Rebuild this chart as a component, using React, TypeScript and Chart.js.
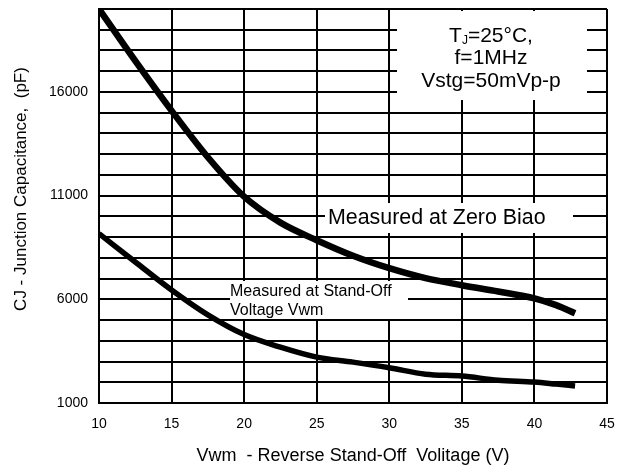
import React, { useEffect, useRef } from "react";
import { Chart, registerables } from "chart.js";

Chart.register(...registerables);

// Reverse stand-off voltage (V)
const voltage = [10, 12.5, 15, 17.5, 20, 22.5, 25, 27.5, 30, 32.5, 35, 37.5, 40, 41.5, 42.8];
// Junction capacitance (pF) measured at zero bias
const zeroBias = [20000, 17500, 15100, 12850, 10950, 9700, 8850, 8100, 7500, 7020, 6680, 6380, 6050, 5720, 5330];
// Junction capacitance (pF) measured at stand-off voltage Vwm
const standOff = [9170, 7800, 6450, 5250, 4300, 3690, 3210, 2970, 2700, 2390, 2300, 2100, 2010, 1910, 1820];

const yLabelled = [1000, 6000, 11000, 16000];
const xMin = 10;
const xMax = 45;
const xStep = 5;
const yMin = 1000;
const yMax = 20000;
const yStep = 1000;

const yTitle = "CJ - Junction Capacitance,  (pF)";
const xTitle = "Vwm  - Reverse Stand-Off  Volitage (V)";
const condLines = ["=25°C,", "f=1MHz", "Vstg=50mVp-p"];
const zeroLabel = "Measured at Zero Biao";
const standOffLabel = ["Measured at Stand-Off", "Voltage Vwm"];

const FONT = "Arial, 'Liberation Sans', sans-serif";

const annotations = {
  id: "annotations",
  beforeDatasetsDraw(chart: any) {
    const { ctx, chartArea } = chart;
    const L = chartArea.left;
    const T = chartArea.top;
    ctx.save();
    ctx.fillStyle = "#fff";
    // conditions box
    ctx.fillRect(L + 298, T + 2, 190, 89);
    // zero bias label box
    ctx.fillRect(L + 226, T + 194, 248, 30);
    // stand-off label box
    ctx.fillRect(L + 131, T + 272, 178, 38);

    ctx.fillStyle = "#000";
    ctx.textBaseline = "middle";
    // conditions text
    const cx = L + 392;
    ctx.font = `21px ${FONT}`;
    const tW = ctx.measureText("T").width;
    ctx.font = `12px ${FONT}`;
    const jW = ctx.measureText("J").width;
    ctx.font = `21px ${FONT}`;
    const restW = ctx.measureText(condLines[0]).width;
    const total = tW + jW + restW;
    const x0 = cx - total / 2;
    ctx.textAlign = "left";
    ctx.fillText("T", x0, T + 27);
    ctx.font = `12px ${FONT}`;
    ctx.fillText("J", x0 + tW, T + 32);
    ctx.font = `21px ${FONT}`;
    ctx.fillText(condLines[0], x0 + tW + jW, T + 27);
    ctx.textAlign = "center";
    ctx.fillText(condLines[1], cx, T + 49);
    ctx.fillText(condLines[2], cx, T + 72);

    // zero bias label
    ctx.textAlign = "left";
    ctx.font = `21.4px ${FONT}`;
    ctx.fillText(zeroLabel, L + 229, T + 209);

    // stand-off label
    ctx.font = `16px ${FONT}`;
    ctx.fillText(standOffLabel[0], L + 131, T + 283);
    ctx.fillText(standOffLabel[1], L + 131, T + 302);

    // y axis title
    ctx.save();
    ctx.translate(21, 189);
    ctx.rotate(-Math.PI / 2);
    ctx.textAlign = "center";
    ctx.font = `17px ${FONT}`;
    ctx.fillText(yTitle, 0, 0);
    ctx.restore();

    ctx.restore();
  },
};

export default function App() {
  const ref = useRef<HTMLCanvasElement | null>(null);

  useEffect(() => {
    if (!ref.current) return;
    const chart = new Chart(ref.current, {
      type: "line",
      data: {
        datasets: [
          {
            label: zeroLabel,
            data: voltage.map((v, i) => ({ x: v, y: zeroBias[i] })),
            borderColor: "#000",
            borderWidth: 6.5,
            pointRadius: 0,
            cubicInterpolationMode: "monotone",
            fill: false,
          },
          {
            label: standOffLabel.join(" "),
            data: voltage.map((v, i) => ({ x: v, y: standOff[i] })),
            borderColor: "#000",
            borderWidth: 5.5,
            pointRadius: 0,
            cubicInterpolationMode: "monotone",
            fill: false,
          },
        ],
      },
      options: {
        animation: false,
        responsive: false,
        maintainAspectRatio: false,
        layout: { padding: { left: 0, right: 19, top: 9, bottom: 0 } },
        plugins: {
          legend: { display: false },
          tooltip: { enabled: false },
        },
        scales: {
          x: {
            type: "linear",
            min: xMin,
            max: xMax,
            ticks: {
              stepSize: xStep,
              color: "#000",
              padding: 13,
              font: { family: FONT, size: 14 },
            },
            grid: { color: "#000", lineWidth: 2, drawTicks: false },
            border: { color: "#000", width: 2 },
            title: {
              display: true,
              text: xTitle,
              color: "#000",
              font: { family: FONT, size: 18 },
              padding: { top: 0, bottom: 0 },
            },
            afterFit(scale: any) {
              scale.height = 64;
              scale.paddingLeft = 0;
              scale.paddingRight = 0;
            },
          },
          y: {
            type: "linear",
            min: yMin,
            max: yMax,
            ticks: {
              stepSize: yStep,
              color: "#000",
              padding: 11,
              font: { family: FONT, size: 14 },
              callback: (v: any) => (yLabelled.includes(Number(v)) ? String(v) : ""),
            },
            grid: { color: "#000", lineWidth: 2, drawTicks: false },
            border: { color: "#000", width: 2 },
            afterFit(scale: any) {
              scale.width = 99;
              scale.paddingTop = 0;
              scale.paddingBottom = 0;
            },
          },
        },
      },
      plugins: [annotations],
    });
    return () => chart.destroy();
  }, []);

  return (
    <div style={{ position: "fixed", left: 0, top: 0, width: 626, height: 467, background: "#fff" }}>
      <canvas ref={ref} width={626} height={467} style={{ width: 626, height: 467, display: "block" }} />
    </div>
  );
}
